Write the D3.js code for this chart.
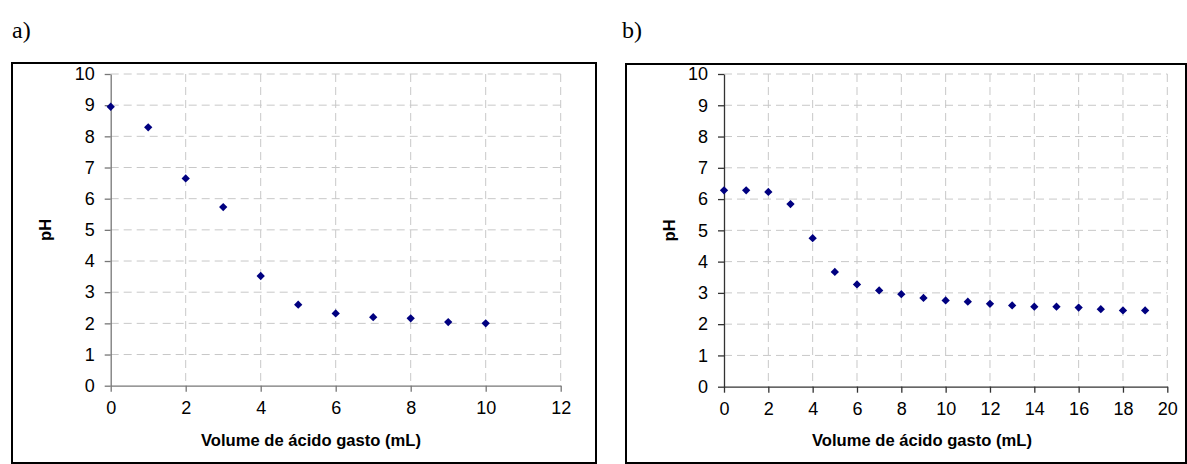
<!DOCTYPE html>
<html>
<head>
<meta charset="utf-8">
<script src="https://cdn.jsdelivr.net/npm/d3@7"></script>
<style>
  body { margin: 0; background: #fff; }
</style>
</head>
<body>
<script>
/* titration curves, two panels */

var volA = [0, 1, 2, 3, 4, 5, 6, 7, 8, 9, 10];
var phA  = [8.95, 8.29, 6.65, 5.73, 3.52, 2.60, 2.32, 2.20, 2.16, 2.04, 2.00];

var volB = [0, 1, 2, 3, 4, 5, 6, 7, 8, 9, 10, 11, 12, 13, 14, 15, 16, 17, 18, 19];
var phB  = [6.28, 6.28, 6.23, 5.84, 4.75, 3.67, 3.27, 3.08, 2.96, 2.84, 2.76, 2.72, 2.65, 2.60, 2.56, 2.56, 2.53, 2.48, 2.44, 2.44];

var xTicksA = [0, 2, 4, 6, 8, 10, 12];
var xTicksB = [0, 2, 4, 6, 8, 10, 12, 14, 16, 18, 20];
var yTicks  = [0, 1, 2, 3, 4, 5, 6, 7, 8, 9, 10];

var xTitle = "Volume de ácido gasto (mL)";
var yTitle = "pH";

var svg = d3.select("body").append("svg")
    .attr("width", 1187)
    .attr("height", 464);

function panel(opt) {
    var g = svg.append("g");

    // letter label
    svg.append("text")
        .attr("x", opt.labelX).attr("y", 38)
        .attr("font-family", "Liberation Serif, Times New Roman, serif")
        .attr("font-size", 24)
        .text(opt.label);

    // frame
    g.append("rect")
        .attr("x", opt.frame[0]).attr("y", opt.frame[1])
        .attr("width", opt.frame[2] - opt.frame[0])
        .attr("height", opt.frame[3] - opt.frame[1])
        .attr("fill", "#fff")
        .attr("stroke", "#000")
        .attr("stroke-width", 2);

    var x = d3.scaleLinear().domain([0, opt.xMax]).range([opt.left, opt.right]);
    var y = d3.scaleLinear().domain([0, 10]).range([opt.bottom, opt.top]);

    // dashed grid
    g.selectAll(".hg").data(yTicks.slice(1)).enter().append("line")
        .attr("x1", opt.left).attr("x2", opt.right)
        .attr("y1", function(d){ return y(d); })
        .attr("y2", function(d){ return y(d); })
        .attr("stroke", "#c8c8c8")
        .attr("stroke-dasharray", "8,5");
    g.selectAll(".vg").data(opt.xTicks.slice(1)).enter().append("line")
        .attr("y1", opt.top).attr("y2", opt.bottom)
        .attr("x1", function(d){ return x(d); })
        .attr("x2", function(d){ return x(d); })
        .attr("stroke", "#c8c8c8")
        .attr("stroke-dasharray", "8,5");

    var xAxis = g.append("g")
        .attr("transform", "translate(0," + opt.bottom + ")")
        .call(d3.axisBottom(x).tickValues(opt.xTicks).tickSize(6).tickSizeOuter(0).tickPadding(10));
    var yAxis = g.append("g")
        .attr("transform", "translate(" + opt.left + ",0)")
        .call(d3.axisLeft(y).tickValues(yTicks).tickSize(6).tickSizeOuter(0).tickPadding(10));
    [xAxis, yAxis].forEach(function(a){
        a.attr("font-family", "Liberation Sans, Arial, sans-serif").attr("font-size", 18);
        a.selectAll("text").attr("fill", "#000");
        a.selectAll("path, line").attr("stroke", opt.axisColor).attr("stroke-width", 1.3);
    });

    // points
    var pts = opt.vol.map(function(v, i){ return { v: v, ph: opt.ph[i] }; });
    g.selectAll(".pt").data(pts).enter().append("path")
        .attr("d", d3.symbol().type(d3.symbolDiamond2).size(44))
        .attr("transform", function(d){ return "translate(" + x(d.v) + "," + y(d.ph) + ")"; })
        .attr("fill", "#000080");

    // titles
    g.append("text")
        .attr("x", opt.xTitleX).attr("y", 446)
        .attr("text-anchor", "middle")
        .attr("font-family", "Liberation Sans, Arial, sans-serif")
        .attr("font-size", 16.6).attr("font-weight", "bold")
        .text(xTitle);
    g.append("text")
        .attr("transform", "translate(" + opt.yTitleX + "," + ((opt.top + opt.bottom) / 2) + ") rotate(-90)")
        .attr("text-anchor", "middle")
        .attr("font-family", "Liberation Sans, Arial, sans-serif")
        .attr("font-size", 16.6).attr("font-weight", "bold")
        .text(yTitle);
}

panel({
    label: "a)", labelX: 12,
    frame: [12, 63, 596, 463],
    left: 110.7, right: 560.7, top: 74, bottom: 385.7,
    xMax: 12, xTicks: xTicksA,
    vol: volA, ph: phA,
    axisColor: "#777",
    xTitleX: 311, yTitleX: 51
});

panel({
    label: "b)", labelX: 622,
    frame: [626, 64, 1186, 463],
    left: 724, right: 1167.3, top: 74, bottom: 386.7,
    xMax: 20, xTicks: xTicksB,
    vol: volB, ph: phB,
    axisColor: "#333",
    xTitleX: 922, yTitleX: 675
});
</script>
</body>
</html>
